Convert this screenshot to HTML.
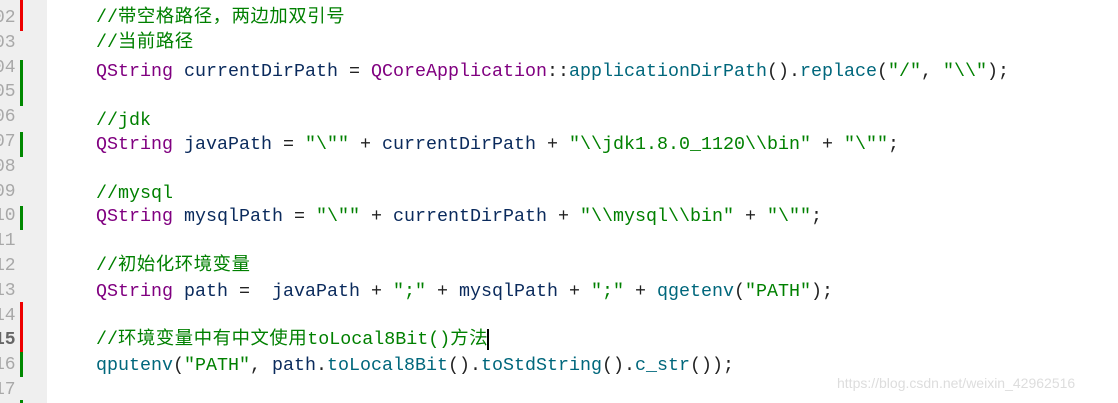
<!DOCTYPE html>
<html><head><meta charset="utf-8"><style>
body{margin:0;width:1118px;height:403px;background:#fff;overflow:hidden;position:relative;font-family:"Liberation Mono","Noto Sans CJK SC",monospace;font-size:18.33px;color:#0a2a5c}
.g{position:absolute;left:0;top:0;width:47px;height:403px;background:#efefef}
.n{position:absolute;left:-6px;width:28px;text-align:left;color:#a8a8a8;font-size:18px;line-height:24px}
.l{position:absolute;left:96px;line-height:24px;white-space:pre}
.bar{position:absolute;left:20px;width:3px}
.c{color:#008000}.k{color:#800080}.s{color:#008000}.f{color:#00677c}.o{color:#222}
.cj{letter-spacing:0.6px}
</style></head><body>
<div class="g"></div>
<div class="bar" style="top:0;height:31px;background:#e00"></div>
<div class="bar" style="top:60px;height:46px;background:#080"></div>
<div class="bar" style="top:132px;height:25px;background:#080"></div>
<div class="bar" style="top:206px;height:24px;background:#080"></div>
<div class="bar" style="top:302px;height:50px;background:#e00"></div>
<div class="bar" style="top:352px;height:25px;background:#080"></div>
<div class="bar" style="top:400px;height:3px;background:#080"></div>

<div class="n" style="top:6px">02</div>
<div class="n" style="top:31px">03</div>
<div class="n" style="top:56px">04</div>
<div class="n" style="top:80px">05</div>
<div class="n" style="top:105px">06</div>
<div class="n" style="top:130px">07</div>
<div class="n" style="top:155px">08</div>
<div class="n" style="top:180px">09</div>
<div class="n" style="top:204px">10</div>
<div class="n" style="top:229px">11</div>
<div class="n" style="top:254px">12</div>
<div class="n" style="top:279px">13</div>
<div class="n" style="top:304px">14</div>
<div class="n" style="top:328px;color:#666;font-weight:bold">15</div>
<div class="n" style="top:353px">16</div>
<div class="n" style="top:378px">17</div>

<div class="l" style="top:6px"><span class="c">//<span class="cj">带空格路径，两边加双引号</span></span></div>
<div class="l" style="top:31px"><span class="c">//<span class="cj">当前路径</span></span></div>
<div class="l" style="top:60px"><span class="k">QString</span> currentDirPath <span class="o">=</span> <span class="k">QCoreApplication</span><span class="o">::</span><span class="f">applicationDirPath</span><span class="o">().</span><span class="f">replace</span><span class="o">(</span><span class="s">"/"</span><span class="o">,</span> <span class="s">"\\"</span><span class="o">);</span></div>
<div class="l" style="top:109px"><span class="c">//jdk</span></div>
<div class="l" style="top:133px"><span class="k">QString</span> javaPath <span class="o">=</span> <span class="s">"\""</span> <span class="o">+</span> currentDirPath <span class="o">+</span> <span class="s">"\\jdk1.8.0_1120\\bin"</span> <span class="o">+</span> <span class="s">"\""</span><span class="o">;</span></div>
<div class="l" style="top:182px"><span class="c">//mysql</span></div>
<div class="l" style="top:205px"><span class="k">QString</span> mysqlPath <span class="o">=</span> <span class="s">"\""</span> <span class="o">+</span> currentDirPath <span class="o">+</span> <span class="s">"\\mysql\\bin"</span> <span class="o">+</span> <span class="s">"\""</span><span class="o">;</span></div>
<div class="l" style="top:254px"><span class="c">//<span class="cj">初始化环境变量</span></span></div>
<div class="l" style="top:280px"><span class="k">QString</span> path <span class="o">=</span>  javaPath <span class="o">+</span> <span class="s">";"</span> <span class="o">+</span> mysqlPath <span class="o">+</span> <span class="s">";"</span> <span class="o">+</span> <span class="f">qgetenv</span><span class="o">(</span><span class="s">"PATH"</span><span class="o">);</span></div>
<div class="l" style="top:328px"><span class="c">//<span class="cj">环境变量中有中文使用</span>toLocal8Bit()<span class="cj">方法</span></span><span style="border-left:2px solid #000;margin-left:-1px"> </span></div>
<div class="l" style="top:354px"><span class="f">qputenv</span><span class="o">(</span><span class="s">"PATH"</span><span class="o">,</span> path<span class="o">.</span><span class="f">toLocal8Bit</span><span class="o">().</span><span class="f">toStdString</span><span class="o">().</span><span class="f">c_str</span><span class="o">());</span></div>
<div style="position:absolute;left:837px;top:375px;font-family:'Liberation Sans',sans-serif;font-size:14px;color:#ddd">https://blog.csdn.net/weixin_42962516</div>
</body></html>
